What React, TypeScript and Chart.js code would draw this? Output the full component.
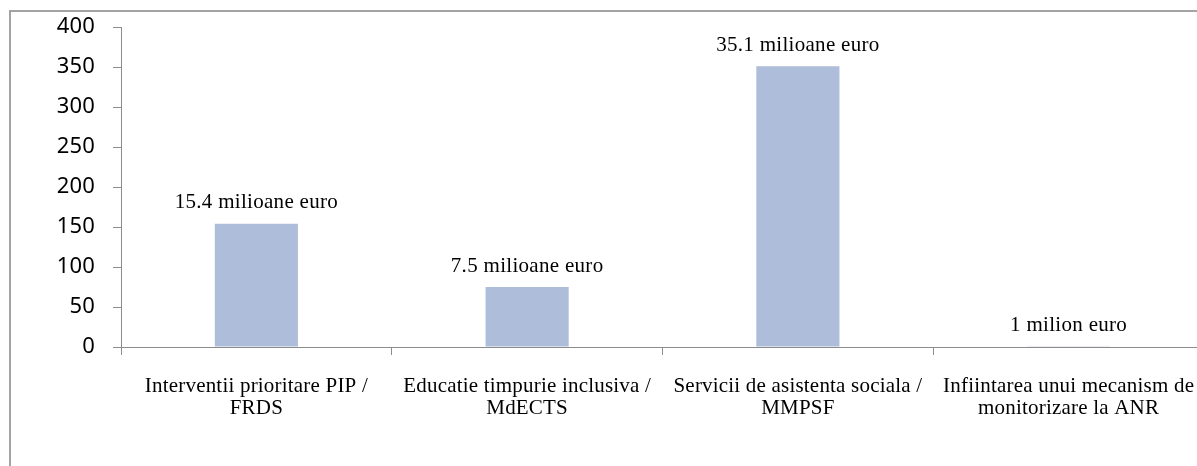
import React, { useEffect, useRef } from "react";
import { Chart, registerables } from "chart.js";

Chart.register(...registerables);

const categories: string[][] = [
  ["Interventii prioritare PIP /", "FRDS"],
  ["Educatie timpurie inclusiva /", "MdECTS"],
  ["Servicii de asistenta sociala /", "MMPSF"],
  ["Infiintarea unui mecanism de", "monitorizare la ANR"],
];
const values: number[] = [154, 75, 351, 1];
const valueLabels: string[] = [
  "15.4 milioane euro",
  "7.5 milioane euro",
  "35.1 milioane euro",
  "1 milion euro",
];
const yTicks = { min: 0, max: 400, step: 50 };

const CANVAS_W = 1220;
const CANVAS_H = 480;
const SERIF = '"Liberation Serif", "Times New Roman", serif';

const spacingPlugin = {
  id: "spacing",
  beforeDraw(chart: any) {
    chart.ctx.letterSpacing = "0.2px";
  },
};

const dataLabelPlugin = {
  id: "dataLabels",
  afterDatasetsDraw(chart: any) {
    const ctx = chart.ctx;
    const meta = chart.getDatasetMeta(0);
    ctx.save();
    ctx.font = "21px " + SERIF;
    ctx.letterSpacing = "0.3px";
    ctx.fillStyle = "#000";
    ctx.textAlign = "center";
    ctx.textBaseline = "middle";
    meta.data.forEach((bar: any, i: number) => {
      ctx.fillText(valueLabels[i], bar.x, bar.y - 21);
    });
    ctx.restore();
  },
};

export default function App() {
  const ref = useRef<HTMLCanvasElement>(null);
  useEffect(() => {
    if (!ref.current) return;
    const chart = new Chart(ref.current, {
      type: "bar",
      data: {
        labels: categories,
        datasets: [
          {
            data: values,
            backgroundColor: "#AEBDDA",
            borderWidth: 0,
            categoryPercentage: 1,
            barPercentage: 0.307,
          },
        ],
      },
      options: {
        responsive: false,
        animation: false,
        devicePixelRatio: 1,
        layout: { padding: { top: 27, right: 16, left: 0, bottom: 0 } },
        plugins: {
          legend: { display: false },
          tooltip: { enabled: false },
        },
        scales: {
          x: {
            offset: true,
            grid: {
              offset: true,
              drawOnChartArea: false,
              drawTicks: true,
              tickLength: 8,
              color: "#8c8c8c",
            },
            border: { color: "#8c8c8c", width: 1 },
            ticks: {
              color: "#000",
              padding: 20,
              maxRotation: 0,
              autoSkip: false,
              font: { family: SERIF, size: 21, lineHeight: 1.06 },
            },
            afterFit(scale: any) {
              scale.height = CANVAS_H - 347;
              scale.paddingLeft = 0;
              scale.paddingRight = 0;
            },
          },
          y: {
            min: yTicks.min,
            max: yTicks.max,
            grid: {
              drawOnChartArea: false,
              drawTicks: true,
              tickLength: 8,
              color: "#8c8c8c",
            },
            border: { color: "#8c8c8c", width: 1 },
            ticks: {
              stepSize: yTicks.step,
              color: "#000",
              padding: 18,
              font: { family: '"Noto Sans", "DejaVu Sans", sans-serif', size: 22 },
            },
            afterFit(scale: any) {
              scale.width = 121;
              scale.paddingTop = 0;
              scale.paddingBottom = 0;
            },
          },
        },
      },
      plugins: [spacingPlugin, dataLabelPlugin],
    });
    return () => chart.destroy();
  }, []);

  return (
    <div
      style={{
        position: "fixed",
        left: 0,
        top: 0,
        width: 1197,
        height: 466,
        overflow: "hidden",
        background: "#fff",
      }}
    >
      <div
        style={{
          position: "absolute",
          left: 9,
          top: 10,
          width: 1300,
          height: 600,
          border: "2px solid #a3a3a3",
          boxSizing: "border-box",
        }}
      />
      <canvas
        ref={ref}
        width={CANVAS_W}
        height={CANVAS_H}
        style={{ position: "absolute", left: 0, top: 0, width: CANVAS_W, height: CANVAS_H }}
      />
    </div>
  );
}
